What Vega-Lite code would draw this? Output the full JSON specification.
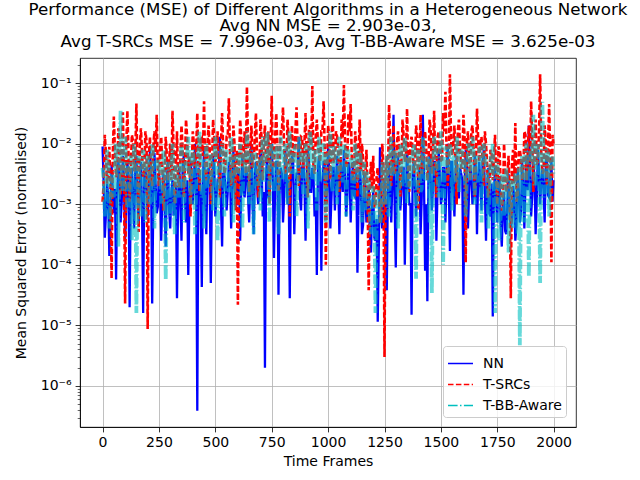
{
  "$schema": "https://vega.github.io/schema/vega-lite/v6.json",
  "width": 496,
  "height": 369,
  "autosize": {"type": "none"},
  "padding": {"left": 80, "top": 58, "right": 64, "bottom": 53},
  "title": {
    "text": ["Performance (MSE) of Different Algorithms in a Heterogeneous Network", "Avg NN MSE = 2.903e-03,", "Avg T-SRCs MSE = 7.996e-03, Avg T-BB-Aware MSE = 3.625e-03"],
    "font": "DejaVu Sans", "fontSize": 16.7, "fontWeight": "normal", "color": "black",
    "anchor": "middle", "frame": "group", "lineHeight": 16.3, "offset": 7
  },
  "config": {
    "font": "DejaVu Sans",
    "view": {"stroke": "black", "strokeWidth": 0.8},
    "axis": {
      "domainColor": "black", "domainWidth": 0.8,
      "tickColor": "black", "tickWidth": 0.8, "tickSize": 4.9,
      "gridColor": "#b0b0b0", "gridWidth": 0.8, "gridOpacity": 1,
      "labelFont": "DejaVu Sans", "labelFontSize": 14, "labelColor": "black", "labelPadding": 4,
      "titleFont": "DejaVu Sans", "titleFontSize": 14, "titleFontWeight": "normal", "titleColor": "black",
      "labelOverlap": false
    },
    "legend": {
      "title": null, "orient": "bottom-right", "offset": 10,
      "fillColor": "rgba(255,255,255,0.8)", "strokeColor": "#cccccc", "cornerRadius": 3, "padding": 4,
      "labelFont": "DejaVu Sans", "labelFontSize": 14, "labelColor": "black", "labelOffset": 9, "rowPadding": -4,
      "symbolType": "stroke", "symbolSize": 625, "symbolStrokeWidth": 1.5
    }
  },
  "data": {"values": [
    {"t":0,"n":9e-3,"s":1.1e-3,"b":4e-3},
    {"t":10,"n":2.8e-4,"s":1.4e-2,"b":6.3e-4},
    {"t":20,"n":2.2e-3,"s":2.2e-3,"b":7.9e-3},
    {"t":30,"n":1.4e-4,"s":8.9e-3,"b":4e-4},
    {"t":40,"n":4.5e-3,"s":6e-5,"b":3.2e-3},
    {"t":50,"n":7.1e-4,"s":2.8e-2,"b":1.3e-3},
    {"t":60,"n":5.7e-5,"s":2.8e-3,"b":1e-2},
    {"t":70,"n":5e-3,"s":1.8e-2,"b":2e-4},
    {"t":80,"n":5e-4,"s":1.4e-3,"b":3.5e-2},
    {"t":90,"n":6.3e-3,"s":3.3e-2,"b":1.6e-3},
    {"t":100,"n":2.5e-4,"s":2.3e-5,"b":1.3e-2},
    {"t":110,"n":5e-3,"s":3.5e-2,"b":7.9e-4},
    {"t":120,"n":2e-5,"s":1.1e-3,"b":4e-3},
    {"t":130,"n":4e-3,"s":1.4e-2,"b":2.5e-4},
    {"t":140,"n":4e-4,"s":3.5e-3,"b":1e-2},
    {"t":150,"n":6.3e-3,"s":4.6e-2,"b":1.6e-5},
    {"t":160,"n":5e-4,"s":3.5e-4,"b":6.3e-3},
    {"t":170,"n":5e-3,"s":1.8e-2,"b":6.3e-4},
    {"t":180,"n":1.6e-5,"s":2.8e-3,"b":7.9e-3},
    {"t":190,"n":4e-3,"s":1.6e-2,"b":5e-4},
    {"t":200,"n":6.3e-4,"s":8.7e-6,"b":6.3e-3},
    {"t":210,"n":7.9e-3,"s":1.3e-2,"b":1e-3},
    {"t":220,"n":2.3e-5,"s":2e-3,"b":1e-2},
    {"t":230,"n":7.1e-3,"s":1.6e-2,"b":4e-4},
    {"t":240,"n":7.1e-4,"s":3e-2,"b":5e-3},
    {"t":250,"n":3.2e-3,"s":2e-3,"b":5.6e-3},
    {"t":260,"n":2.5e-4,"s":1.3e-2,"b":1.1e-3},
    {"t":270,"n":3.2e-3,"s":7.9e-4,"b":7.9e-3},
    {"t":280,"n":2e-4,"s":1.3e-2,"b":5.6e-5},
    {"t":290,"n":5e-3,"s":2.5e-3,"b":5e-3},
    {"t":300,"n":4e-4,"s":1e-2,"b":6.3e-4},
    {"t":310,"n":2.5e-3,"s":3.5e-2,"b":1e-2},
    {"t":320,"n":7.9e-4,"s":1e-3,"b":3.2e-4},
    {"t":330,"n":2.8e-5,"s":1.6e-2,"b":4e-3},
    {"t":340,"n":4e-3,"s":2e-3,"b":1.3e-3},
    {"t":350,"n":2.5e-4,"s":2e-2,"b":1e-2},
    {"t":360,"n":6.3e-3,"s":1.3e-3,"b":5e-4},
    {"t":370,"n":5e-4,"s":2.5e-2,"b":6.3e-3},
    {"t":380,"n":6.8e-5,"s":3.2e-3,"b":1.3e-2},
    {"t":390,"n":5e-3,"s":6.3e-4,"b":1e-3},
    {"t":400,"n":1e-3,"s":1.6e-2,"b":7.9e-3},
    {"t":410,"n":1e-2,"s":4e-3,"b":3.2e-4},
    {"t":420,"n":3.9e-7,"s":3.2e-2,"b":5e-3},
    {"t":430,"n":3.2e-3,"s":1.6e-3,"b":1.6e-2},
    {"t":440,"n":4.3e-5,"s":1.3e-2,"b":1.3e-3},
    {"t":450,"n":7.9e-3,"s":5e-2,"b":4e-4},
    {"t":460,"n":3.2e-4,"s":2.5e-3,"b":1e-2},
    {"t":470,"n":4e-3,"s":2e-2,"b":2.5e-3},
    {"t":480,"n":5e-5,"s":1e-3,"b":6.3e-3},
    {"t":490,"n":6.3e-3,"s":2.5e-2,"b":7.9e-4},
    {"t":500,"n":6.3e-4,"s":5e-3,"b":1.3e-2},
    {"t":510,"n":2.5e-3,"s":1.6e-2,"b":2.5e-4},
    {"t":520,"n":1.3e-2,"s":1.3e-3,"b":4e-3},
    {"t":530,"n":2e-4,"s":3.2e-2,"b":1e-2},
    {"t":540,"n":3.2e-3,"s":3.2e-3,"b":6.3e-4},
    {"t":550,"n":7.9e-4,"s":1.3e-2,"b":7.9e-3},
    {"t":560,"n":5e-3,"s":5.6e-2,"b":1.6e-3},
    {"t":570,"n":4e-4,"s":2e-3,"b":1.3e-2},
    {"t":580,"n":7.9e-3,"s":2e-2,"b":5e-4},
    {"t":590,"n":1e-3,"s":7.9e-4,"b":6.3e-3},
    {"t":600,"n":4e-3,"s":2.2e-5,"b":3.2e-3},
    {"t":610,"n":2.5e-4,"s":2.5e-2,"b":1e-2},
    {"t":620,"n":6.3e-3,"s":4e-3,"b":4e-4},
    {"t":630,"n":1.3e-3,"s":1.6e-2,"b":5e-3},
    {"t":640,"n":3.2e-3,"s":8.7e-2,"b":1.6e-2},
    {"t":650,"n":5e-4,"s":1.6e-3,"b":1e-3},
    {"t":660,"n":1e-2,"s":2e-2,"b":7.9e-3},
    {"t":670,"n":3.2e-4,"s":5e-3,"b":3.2e-4},
    {"t":680,"n":5e-3,"s":3.2e-2,"b":6.3e-3},
    {"t":690,"n":1e-3,"s":1.3e-3,"b":2e-3},
    {"t":700,"n":7.9e-3,"s":2.5e-2,"b":7.9e-4},
    {"t":710,"n":6.3e-4,"s":2.5e-3,"b":1.3e-2},
    {"t":720,"n":2e-6,"s":2e-2,"b":4e-3},
    {"t":730,"n":6.3e-3,"s":5e-3,"b":1.6e-2},
    {"t":740,"n":1.3e-3,"s":1e-3,"b":5e-4},
    {"t":750,"n":1e-2,"s":6.2e-2,"b":1e-2},
    {"t":760,"n":1.3e-4,"s":4e-3,"b":1.6e-3},
    {"t":770,"n":5e-3,"s":3.2e-2,"b":7.9e-3},
    {"t":780,"n":3.2e-5,"s":1.6e-3,"b":3.2e-4},
    {"t":790,"n":4e-3,"s":1.6e-2,"b":1.3e-2},
    {"t":800,"n":5e-4,"s":4e-2,"b":2.5e-3},
    {"t":810,"n":7.9e-3,"s":3.2e-3,"b":1e-2},
    {"t":820,"n":1e-3,"s":2.5e-2,"b":1e-3},
    {"t":830,"n":2.8e-5,"s":6.3e-4,"b":1.6e-2},
    {"t":840,"n":6.3e-3,"s":2e-2,"b":3.2e-3},
    {"t":850,"n":3.2e-4,"s":6.3e-3,"b":7.9e-3},
    {"t":860,"n":3.2e-3,"s":4e-2,"b":6.3e-4},
    {"t":870,"n":1.3e-2,"s":2e-3,"b":1.3e-2},
    {"t":880,"n":7.9e-4,"s":1.3e-2,"b":5e-3},
    {"t":890,"n":5e-3,"s":4e-3,"b":1.3e-3},
    {"t":900,"n":2.5e-4,"s":3.2e-2,"b":1e-2},
    {"t":910,"n":7.9e-3,"s":1.3e-3,"b":4e-4},
    {"t":920,"n":1.6e-3,"s":2e-2,"b":1.6e-2},
    {"t":930,"n":4e-3,"s":9e-2,"b":2.5e-3},
    {"t":940,"n":6.3e-4,"s":3.2e-3,"b":7.9e-3},
    {"t":950,"n":6.8e-5,"s":2.5e-2,"b":7.9e-4},
    {"t":960,"n":6.3e-3,"s":6.3e-3,"b":1.3e-2},
    {"t":970,"n":8e-5,"s":1.6e-2,"b":4e-3},
    {"t":980,"n":5e-3,"s":5e-2,"b":1e-2},
    {"t":990,"n":1e-3,"s":1e-4,"b":5e-4},
    {"t":1000,"n":1e-2,"s":2e-2,"b":6.3e-3},
    {"t":1010,"n":4e-4,"s":2.5e-3,"b":1.6e-2},
    {"t":1020,"n":4e-3,"s":3.2e-2,"b":1.6e-3},
    {"t":1030,"n":7.9e-4,"s":5e-3,"b":7.9e-3},
    {"t":1040,"n":6.3e-3,"s":1.3e-2,"b":1e-3},
    {"t":1050,"n":3.2e-4,"s":1.6e-3,"b":1.3e-2},
    {"t":1060,"n":3.2e-3,"s":2.5e-2,"b":3.2e-3},
    {"t":1070,"n":7.9e-3,"s":9.3e-2,"b":1e-2},
    {"t":1080,"n":6.3e-4,"s":4e-3,"b":6.3e-4},
    {"t":1090,"n":5e-3,"s":3.2e-2,"b":7.9e-3},
    {"t":1100,"n":5e-4,"s":4.5e-2,"b":6.3e-3},
    {"t":1110,"n":5e-3,"s":2.5e-3,"b":7.9e-4},
    {"t":1120,"n":1.3e-3,"s":1.6e-2,"b":1e-2},
    {"t":1130,"n":7.4e-5,"s":1.3e-3,"b":2.5e-3},
    {"t":1140,"n":4e-3,"s":2.5e-2,"b":7.9e-3},
    {"t":1150,"n":3.2e-4,"s":1e-2,"b":5e-4},
    {"t":1160,"n":3.2e-3,"s":1.3e-3,"b":5e-3},
    {"t":1170,"n":5e-4,"s":7.9e-3,"b":3.2e-3},
    {"t":1180,"n":2e-3,"s":3.8e-5,"b":2.5e-3},
    {"t":1190,"n":1.6e-4,"s":5e-3,"b":3.2e-4},
    {"t":1200,"n":1.6e-3,"s":6.3e-3,"b":2e-3},
    {"t":1210,"n":2.5e-4,"s":1e-3,"b":1.6e-5},
    {"t":1220,"n":1.15e-5,"s":4e-3,"b":1.6e-3},
    {"t":1230,"n":8.7e-3,"s":5e-4,"b":5e-4},
    {"t":1240,"n":4e-4,"s":1e-2,"b":5e-3},
    {"t":1250,"n":2.5e-3,"s":3e-6,"b":1e-3},
    {"t":1260,"n":3.8e-5,"s":6.3e-3,"b":6.3e-3},
    {"t":1270,"n":5e-3,"s":4.4e-2,"b":6.3e-4},
    {"t":1280,"n":5e-4,"s":2e-3,"b":1.3e-2},
    {"t":1290,"n":3e-2,"s":2e-2,"b":4e-3},
    {"t":1300,"n":9e-5,"s":4e-3,"b":7.9e-3},
    {"t":1310,"n":6.3e-3,"s":1.6e-2,"b":4e-4},
    {"t":1320,"n":7.9e-4,"s":1.3e-3,"b":1e-2},
    {"t":1330,"n":4e-3,"s":2.5e-2,"b":2e-3},
    {"t":1340,"n":1e-4,"s":5e-3,"b":1.3e-2},
    {"t":1350,"n":7.9e-3,"s":3.8e-2,"b":1e-3},
    {"t":1360,"n":1e-3,"s":1.6e-3,"b":6.3e-3},
    {"t":1370,"n":1.5e-5,"s":1.3e-2,"b":3.2e-3},
    {"t":1380,"n":5e-3,"s":3.2e-3,"b":1e-2},
    {"t":1390,"n":6.3e-4,"s":2e-2,"b":5.9e-5},
    {"t":1400,"n":3.2e-3,"s":7.9e-4,"b":7.9e-3},
    {"t":1410,"n":3.2e-4,"s":3e-2,"b":1.6e-3},
    {"t":1420,"n":3e-2,"s":4e-3,"b":1.3e-2},
    {"t":1430,"n":8e-5,"s":1.6e-2,"b":2.5e-3},
    {"t":1440,"n":2.5e-5,"s":2.5e-3,"b":6.3e-3},
    {"t":1450,"n":6.3e-3,"s":2.5e-2,"b":5e-4},
    {"t":1460,"n":7.9e-4,"s":3.2e-3,"b":3.4e-5},
    {"t":1470,"n":5e-3,"s":3.5e-2,"b":1.3e-2},
    {"t":1480,"n":2.5e-4,"s":1.3e-3,"b":6.3e-3},
    {"t":1490,"n":7.9e-3,"s":1.6e-2,"b":1.3e-3},
    {"t":1500,"n":1e-3,"s":5e-3,"b":1.6e-2},
    {"t":1510,"n":4e-3,"s":3.2e-2,"b":1e-4},
    {"t":1520,"n":5e-4,"s":7.2e-2,"b":7.9e-3},
    {"t":1530,"n":1e-2,"s":2e-3,"b":3.2e-3},
    {"t":1540,"n":1.7e-4,"s":0.14,"b":1e-2},
    {"t":1550,"n":5e-3,"s":6.3e-3,"b":7.9e-4},
    {"t":1560,"n":6.3e-4,"s":2e-2,"b":6.3e-3},
    {"t":1570,"n":6.3e-3,"s":1e-3,"b":1.3e-2},
    {"t":1580,"n":1.3e-3,"s":2.5e-2,"b":1.6e-3},
    {"t":1590,"n":3.2e-3,"s":4e-3,"b":7.9e-3},
    {"t":1600,"n":3.2e-5,"s":3e-2,"b":4e-3},
    {"t":1610,"n":7.9e-3,"s":1.1e-4,"b":6.3e-4},
    {"t":1620,"n":4e-4,"s":1.6e-2,"b":1e-2},
    {"t":1630,"n":4e-3,"s":2.5e-3,"b":2.5e-3},
    {"t":1640,"n":1e-3,"s":2e-2,"b":1.3e-2},
    {"t":1650,"n":6.3e-3,"s":1.3e-3,"b":1e-3},
    {"t":1660,"n":3.2e-4,"s":3.8e-2,"b":6.3e-3},
    {"t":1670,"n":5e-3,"s":5e-3,"b":7.9e-3},
    {"t":1680,"n":7.9e-4,"s":1.3e-2,"b":5e-4},
    {"t":1690,"n":7.9e-3,"s":2e-3,"b":1e-2},
    {"t":1700,"n":2.5e-4,"s":1e-2,"b":4e-3},
    {"t":1710,"n":4e-3,"s":1.3e-3,"b":4e-4},
    {"t":1720,"n":6.3e-4,"s":7.9e-3,"b":6.3e-3},
    {"t":1730,"n":1.4e-5,"s":2.5e-3,"b":1e-2},
    {"t":1740,"n":4e-3,"s":1.4e-2,"b":1.6e-5},
    {"t":1750,"n":5e-4,"s":1e-3,"b":5e-3},
    {"t":1760,"n":2.5e-3,"s":7.9e-3,"b":2.5e-4},
    {"t":1770,"n":2e-4,"s":7.9e-4,"b":3.2e-3},
    {"t":1780,"n":1.6e-3,"s":1e-2,"b":6.3e-4},
    {"t":1790,"n":3.2e-4,"s":1.6e-3,"b":4e-3},
    {"t":1800,"n":3.2e-3,"s":6.3e-3,"b":1.6e-4},
    {"t":1810,"n":4e-4,"s":2.8e-5,"b":2.5e-3},
    {"t":1820,"n":2e-3,"s":7.9e-3,"b":4e-4},
    {"t":1830,"n":2.5e-4,"s":2.2e-2,"b":3.2e-3},
    {"t":1840,"n":4e-3,"s":1.3e-3,"b":3.2e-4},
    {"t":1850,"n":5e-4,"s":7.9e-3,"b":4.7e-6},
    {"t":1860,"n":5e-3,"s":2.5e-3,"b":6.3e-3},
    {"t":1870,"n":4e-4,"s":1.6e-2,"b":5e-4},
    {"t":1880,"n":6.3e-3,"s":2.5e-3,"b":1e-2},
    {"t":1890,"n":2e-2,"s":2e-2,"b":6.3e-5},
    {"t":1900,"n":6.3e-4,"s":5e-2,"b":7.9e-3},
    {"t":1910,"n":5e-3,"s":1.6e-3,"b":3e-2},
    {"t":1920,"n":3.2e-4,"s":2.5e-2,"b":2e-3},
    {"t":1930,"n":7.9e-3,"s":5e-3,"b":1e-2},
    {"t":1940,"n":1e-3,"s":0.14,"b":5e-5},
    {"t":1950,"n":4e-3,"s":3.2e-3,"b":4.9e-2},
    {"t":1960,"n":5e-4,"s":2e-2,"b":1.3e-3},
    {"t":1970,"n":6.3e-3,"s":2e-3,"b":7.9e-3},
    {"t":1980,"n":1.3e-3,"s":4.5e-2,"b":6.3e-4},
    {"t":1990,"n":5e-3,"s":1.1e-4,"b":6.3e-3},
    {"t":1999,"n":2.5e-3,"s":1e-2,"b":3.2e-3},
    {"t":5,"n":2.2e-3,"s":2.2e-3,"b":2.5e-3},
    {"t":15,"n":6.9e-4,"s":7e-3,"b":1e-3},
    {"t":25,"n":1.4e-3,"s":3.5e-3,"b":4e-3},
    {"t":35,"n":5.5e-4,"s":1.8e-3,"b":1.6e-3},
    {"t":45,"n":1.7e-3,"s":5.5e-3,"b":3.2e-3},
    {"t":55,"n":1.8e-3,"s":7.1e-3,"b":4e-3},
    {"t":65,"n":1.4e-3,"s":3.5e-3,"b":1.6e-3},
    {"t":75,"n":3.6e-3,"s":1.1e-2,"b":6.4e-3},
    {"t":85,"n":1.1e-3,"s":5.6e-3,"b":2.5e-3},
    {"t":95,"n":2.3e-3,"s":2.8e-3,"b":5e-3},
    {"t":105,"n":9e-4,"s":8.8e-3,"b":4e-3},
    {"t":115,"n":2.8e-3,"s":7.1e-3,"b":1.6e-3},
    {"t":125,"n":1.8e-3,"s":3.5e-3,"b":6.4e-3},
    {"t":135,"n":1.4e-3,"s":1.1e-2,"b":2.5e-3},
    {"t":145,"n":3.6e-3,"s":5.6e-3,"b":5e-3},
    {"t":155,"n":1.1e-3,"s":2.8e-3,"b":4e-3},
    {"t":165,"n":2.3e-3,"s":8.8e-3,"b":1.6e-3},
    {"t":175,"n":9e-4,"s":7.1e-3,"b":6.4e-3},
    {"t":185,"n":2.8e-3,"s":3.5e-3,"b":2.5e-3},
    {"t":195,"n":1.8e-3,"s":1.1e-2,"b":5e-3},
    {"t":205,"n":1.4e-3,"s":5.6e-3,"b":4e-3},
    {"t":215,"n":3.6e-3,"s":2.8e-3,"b":1.6e-3},
    {"t":225,"n":1.1e-3,"s":8.8e-3,"b":6.4e-3},
    {"t":235,"n":2.3e-3,"s":7.1e-3,"b":2.5e-3},
    {"t":245,"n":9e-4,"s":3.5e-3,"b":5e-3},
    {"t":255,"n":2.1e-3,"s":8e-3,"b":2.8e-3},
    {"t":265,"n":1.3e-3,"s":4e-3,"b":1.1e-3},
    {"t":275,"n":1e-3,"s":2e-3,"b":4.4e-3},
    {"t":285,"n":2.6e-3,"s":6.3e-3,"b":1.7e-3},
    {"t":295,"n":8.2e-4,"s":5e-3,"b":3.5e-3},
    {"t":305,"n":1.6e-3,"s":2.5e-3,"b":2.8e-3},
    {"t":315,"n":6.5e-4,"s":8e-3,"b":1.1e-3},
    {"t":325,"n":2.1e-3,"s":4e-3,"b":4.4e-3},
    {"t":335,"n":1.3e-3,"s":2e-3,"b":1.7e-3},
    {"t":345,"n":1e-3,"s":6.3e-3,"b":3.5e-3},
    {"t":355,"n":4e-3,"s":7.9e-3,"b":4.4e-3},
    {"t":365,"n":1.3e-3,"s":4e-3,"b":1.8e-3},
    {"t":375,"n":2.5e-3,"s":1.3e-2,"b":7e-3},
    {"t":385,"n":1e-3,"s":6.3e-3,"b":2.8e-3},
    {"t":395,"n":3.2e-3,"s":3.2e-3,"b":5.5e-3},
    {"t":405,"n":2e-3,"s":1e-2,"b":4.4e-3},
    {"t":415,"n":1.6e-3,"s":7.9e-3,"b":1.8e-3},
    {"t":425,"n":4e-3,"s":4e-3,"b":7e-3},
    {"t":435,"n":1.3e-3,"s":1.3e-2,"b":2.8e-3},
    {"t":445,"n":2.5e-3,"s":6.3e-3,"b":5.5e-3},
    {"t":455,"n":1e-3,"s":3.2e-3,"b":4.4e-3},
    {"t":465,"n":3.2e-3,"s":1e-2,"b":1.8e-3},
    {"t":475,"n":2e-3,"s":7.9e-3,"b":7e-3},
    {"t":485,"n":1.6e-3,"s":4e-3,"b":2.8e-3},
    {"t":495,"n":4e-3,"s":1.3e-2,"b":5.5e-3},
    {"t":505,"n":1.3e-3,"s":6.3e-3,"b":4.4e-3},
    {"t":515,"n":2.5e-3,"s":3.2e-3,"b":1.8e-3},
    {"t":525,"n":1e-3,"s":1e-2,"b":7e-3},
    {"t":535,"n":3.2e-3,"s":7.9e-3,"b":2.8e-3},
    {"t":545,"n":2e-3,"s":4e-3,"b":5.5e-3},
    {"t":555,"n":1.6e-3,"s":1.3e-2,"b":4.4e-3},
    {"t":565,"n":4e-3,"s":6.3e-3,"b":1.8e-3},
    {"t":575,"n":1.3e-3,"s":3.2e-3,"b":7e-3},
    {"t":585,"n":2.5e-3,"s":1e-2,"b":2.8e-3},
    {"t":595,"n":1e-3,"s":7.9e-3,"b":5.5e-3},
    {"t":605,"n":3.2e-3,"s":4e-3,"b":4.4e-3},
    {"t":615,"n":2e-3,"s":1.3e-2,"b":1.8e-3},
    {"t":625,"n":1.6e-3,"s":6.3e-3,"b":7e-3},
    {"t":635,"n":4e-3,"s":3.2e-3,"b":2.8e-3},
    {"t":645,"n":1.3e-3,"s":1e-2,"b":5.5e-3},
    {"t":655,"n":2.5e-3,"s":7.9e-3,"b":4.4e-3},
    {"t":665,"n":1e-3,"s":4e-3,"b":1.8e-3},
    {"t":675,"n":3.2e-3,"s":1.3e-2,"b":7e-3},
    {"t":685,"n":2e-3,"s":6.3e-3,"b":2.8e-3},
    {"t":695,"n":1.6e-3,"s":3.2e-3,"b":5.5e-3},
    {"t":705,"n":5e-3,"s":1.25e-2,"b":5.7e-3},
    {"t":715,"n":1.6e-3,"s":1e-2,"b":2.3e-3},
    {"t":725,"n":3.2e-3,"s":5e-3,"b":9e-3},
    {"t":735,"n":1.3e-3,"s":1.6e-2,"b":3.6e-3},
    {"t":745,"n":4e-3,"s":7.9e-3,"b":7.1e-3},
    {"t":755,"n":2.5e-3,"s":4e-3,"b":5.7e-3},
    {"t":765,"n":2e-3,"s":1.25e-2,"b":2.3e-3},
    {"t":775,"n":5e-3,"s":1e-2,"b":9e-3},
    {"t":785,"n":1.6e-3,"s":5e-3,"b":3.6e-3},
    {"t":795,"n":3.2e-3,"s":1.6e-2,"b":7.1e-3},
    {"t":805,"n":1.3e-3,"s":7.9e-3,"b":5.7e-3},
    {"t":815,"n":4e-3,"s":4e-3,"b":2.3e-3},
    {"t":825,"n":2.5e-3,"s":1.25e-2,"b":9e-3},
    {"t":835,"n":2e-3,"s":1e-2,"b":3.6e-3},
    {"t":845,"n":5e-3,"s":5e-3,"b":7.1e-3},
    {"t":855,"n":1.6e-3,"s":1.6e-2,"b":5.7e-3},
    {"t":865,"n":3.2e-3,"s":7.9e-3,"b":2.3e-3},
    {"t":875,"n":1.3e-3,"s":4e-3,"b":9e-3},
    {"t":885,"n":4e-3,"s":1.25e-2,"b":3.6e-3},
    {"t":895,"n":2.5e-3,"s":1e-2,"b":7.1e-3},
    {"t":905,"n":2e-3,"s":5e-3,"b":5.7e-3},
    {"t":915,"n":5e-3,"s":1.6e-2,"b":2.3e-3},
    {"t":925,"n":1.6e-3,"s":7.9e-3,"b":9e-3},
    {"t":935,"n":3.2e-3,"s":4e-3,"b":3.6e-3},
    {"t":945,"n":1.3e-3,"s":1.25e-2,"b":7.1e-3},
    {"t":955,"n":4e-3,"s":1e-2,"b":5.7e-3},
    {"t":965,"n":2.5e-3,"s":5e-3,"b":2.3e-3},
    {"t":975,"n":2e-3,"s":1.6e-2,"b":9e-3},
    {"t":985,"n":5e-3,"s":7.9e-3,"b":3.6e-3},
    {"t":995,"n":1.6e-3,"s":4e-3,"b":7.1e-3},
    {"t":1005,"n":3.2e-3,"s":1.25e-2,"b":5.7e-3},
    {"t":1015,"n":1.3e-3,"s":1e-2,"b":2.3e-3},
    {"t":1025,"n":4e-3,"s":5e-3,"b":9e-3},
    {"t":1035,"n":2.5e-3,"s":1.6e-2,"b":3.6e-3},
    {"t":1045,"n":2e-3,"s":7.9e-3,"b":7.1e-3},
    {"t":1055,"n":5e-3,"s":4e-3,"b":5.7e-3},
    {"t":1065,"n":1.6e-3,"s":1.25e-2,"b":2.3e-3},
    {"t":1075,"n":3.2e-3,"s":1e-2,"b":9e-3},
    {"t":1085,"n":1.3e-3,"s":5e-3,"b":3.6e-3},
    {"t":1095,"n":4e-3,"s":1.6e-2,"b":7.1e-3},
    {"t":1105,"n":1.8e-3,"s":5.6e-3,"b":4e-3},
    {"t":1115,"n":1.4e-3,"s":2.8e-3,"b":1.6e-3},
    {"t":1125,"n":3.6e-3,"s":8.8e-3,"b":6.4e-3},
    {"t":1135,"n":1.1e-3,"s":7.1e-3,"b":2.5e-3},
    {"t":1145,"n":2.3e-3,"s":3.5e-3,"b":5e-3},
    {"t":1155,"n":4.5e-4,"s":5.6e-3,"b":2e-3},
    {"t":1165,"n":1.4e-3,"s":2.8e-3,"b":8e-4},
    {"t":1175,"n":8.9e-4,"s":1.4e-3,"b":3.2e-3},
    {"t":1185,"n":3.6e-4,"s":2.2e-3,"b":6.2e-4},
    {"t":1195,"n":9e-4,"s":1.8e-3,"b":1.25e-3},
    {"t":1205,"n":2.8e-4,"s":8.8e-4,"b":1e-3},
    {"t":1215,"n":5.7e-4,"s":2.8e-3,"b":4e-4},
    {"t":1225,"n":2.3e-4,"s":1.4e-3,"b":1.6e-3},
    {"t":1235,"n":7.1e-4,"s":7e-4,"b":6.2e-4},
    {"t":1245,"n":8.9e-4,"s":4.4e-3,"b":2.5e-3},
    {"t":1255,"n":7e-4,"s":3.5e-3,"b":2e-3},
    {"t":1265,"n":1.8e-3,"s":1.8e-3,"b":8e-4},
    {"t":1275,"n":1.3e-3,"s":1.3e-2,"b":7e-3},
    {"t":1285,"n":2.5e-3,"s":6.3e-3,"b":2.8e-3},
    {"t":1295,"n":1e-3,"s":3.2e-3,"b":5.5e-3},
    {"t":1305,"n":3.2e-3,"s":1e-2,"b":4.4e-3},
    {"t":1315,"n":2e-3,"s":7.9e-3,"b":1.8e-3},
    {"t":1325,"n":1.6e-3,"s":4e-3,"b":7e-3},
    {"t":1335,"n":4e-3,"s":1.3e-2,"b":2.8e-3},
    {"t":1345,"n":1.3e-3,"s":6.3e-3,"b":5.5e-3},
    {"t":1355,"n":2.5e-3,"s":3.2e-3,"b":4.4e-3},
    {"t":1365,"n":1e-3,"s":1e-2,"b":1.8e-3},
    {"t":1375,"n":3.2e-3,"s":7.9e-3,"b":7e-3},
    {"t":1385,"n":2e-3,"s":4e-3,"b":2.8e-3},
    {"t":1395,"n":1.6e-3,"s":1.3e-2,"b":5.5e-3},
    {"t":1405,"n":4e-3,"s":6.3e-3,"b":4.4e-3},
    {"t":1415,"n":1.3e-3,"s":3.2e-3,"b":1.8e-3},
    {"t":1425,"n":2.5e-3,"s":1e-2,"b":7e-3},
    {"t":1435,"n":1e-3,"s":7.9e-3,"b":2.8e-3},
    {"t":1445,"n":3.2e-3,"s":4e-3,"b":5.5e-3},
    {"t":1455,"n":2.5e-3,"s":1.6e-2,"b":5.7e-3},
    {"t":1465,"n":2e-3,"s":7.9e-3,"b":2.3e-3},
    {"t":1475,"n":5e-3,"s":4e-3,"b":9e-3},
    {"t":1485,"n":1.6e-3,"s":1.25e-2,"b":3.6e-3},
    {"t":1495,"n":3.2e-3,"s":1e-2,"b":7.1e-3},
    {"t":1505,"n":1.3e-3,"s":5e-3,"b":5.7e-3},
    {"t":1515,"n":4e-3,"s":1.6e-2,"b":2.3e-3},
    {"t":1525,"n":2.5e-3,"s":7.9e-3,"b":9e-3},
    {"t":1535,"n":2e-3,"s":4e-3,"b":3.6e-3},
    {"t":1545,"n":5e-3,"s":1.25e-2,"b":7.1e-3},
    {"t":1555,"n":1.6e-3,"s":1e-2,"b":5.7e-3},
    {"t":1565,"n":3.2e-3,"s":5e-3,"b":2.3e-3},
    {"t":1575,"n":1.3e-3,"s":1.6e-2,"b":9e-3},
    {"t":1585,"n":4e-3,"s":7.9e-3,"b":3.6e-3},
    {"t":1595,"n":2.5e-3,"s":4e-3,"b":7.1e-3},
    {"t":1605,"n":2e-3,"s":1.25e-2,"b":5.7e-3},
    {"t":1615,"n":5e-3,"s":1e-2,"b":2.3e-3},
    {"t":1625,"n":1.6e-3,"s":5e-3,"b":9e-3},
    {"t":1635,"n":3.2e-3,"s":1.6e-2,"b":3.6e-3},
    {"t":1645,"n":1.3e-3,"s":7.9e-3,"b":7.1e-3},
    {"t":1655,"n":4e-3,"s":4e-3,"b":5.7e-3},
    {"t":1665,"n":2.5e-3,"s":1.25e-2,"b":2.3e-3},
    {"t":1675,"n":2e-3,"s":1e-2,"b":9e-3},
    {"t":1685,"n":5e-3,"s":5e-3,"b":3.6e-3},
    {"t":1695,"n":1.6e-3,"s":1.6e-2,"b":7.1e-3},
    {"t":1705,"n":1.8e-3,"s":4.5e-3,"b":3.2e-3},
    {"t":1715,"n":7e-4,"s":2.2e-3,"b":1.25e-3},
    {"t":1725,"n":2.2e-3,"s":7.1e-3,"b":5e-3},
    {"t":1735,"n":1.4e-3,"s":5.7e-3,"b":2e-3},
    {"t":1745,"n":1.1e-3,"s":2.8e-3,"b":4e-3},
    {"t":1755,"n":2.8e-3,"s":9e-3,"b":3.2e-3},
    {"t":1765,"n":4.5e-4,"s":2.2e-3,"b":6.5e-4},
    {"t":1775,"n":9e-4,"s":1.1e-3,"b":2.6e-3},
    {"t":1785,"n":3.6e-4,"s":3.5e-3,"b":1e-3},
    {"t":1795,"n":1.1e-3,"s":2.8e-3,"b":2e-3},
    {"t":1805,"n":7.1e-4,"s":1.4e-3,"b":1.6e-3},
    {"t":1815,"n":5.6e-4,"s":4.4e-3,"b":6.5e-4},
    {"t":1825,"n":1.4e-3,"s":2.2e-3,"b":2.6e-3},
    {"t":1835,"n":4.5e-4,"s":1.1e-3,"b":1e-3},
    {"t":1845,"n":1.8e-3,"s":7.1e-3,"b":4e-3},
    {"t":1855,"n":7e-4,"s":5.7e-3,"b":3.2e-3},
    {"t":1865,"n":2.2e-3,"s":2.8e-3,"b":1.25e-3},
    {"t":1875,"n":2.2e-3,"s":1.4e-2,"b":8e-3},
    {"t":1885,"n":1.7e-3,"s":7.1e-3,"b":3.2e-3},
    {"t":1895,"n":4.4e-3,"s":3.5e-3,"b":6.3e-3},
    {"t":1905,"n":1.4e-3,"s":1.1e-2,"b":5e-3},
    {"t":1915,"n":2.8e-3,"s":9e-3,"b":2e-3},
    {"t":1925,"n":1.1e-3,"s":4.5e-3,"b":8e-3},
    {"t":1935,"n":3.5e-3,"s":1.4e-2,"b":3.2e-3},
    {"t":1945,"n":2.2e-3,"s":7.1e-3,"b":6.3e-3},
    {"t":1955,"n":1.7e-3,"s":3.5e-3,"b":5e-3},
    {"t":1965,"n":4.4e-3,"s":1.1e-2,"b":2e-3},
    {"t":1975,"n":1.4e-3,"s":9e-3,"b":8e-3},
    {"t":1985,"n":2.8e-3,"s":4.5e-3,"b":3.2e-3},
    {"t":1995,"n":1.1e-3,"s":1.4e-2,"b":6.3e-3}
  ]},
  "transform": [{"fold": ["n", "s", "b"], "as": ["key", "v"]}],
  "encoding": {
    "x": {
      "field": "t", "type": "quantitative",
      "scale": {"domain": [-100, 2099], "nice": false, "zero": false},
      "axis": {"values": [0, 250, 500, 750, 1000, 1250, 1500, 1750, 2000], "format": "d", "title": "Time Frames", "grid": true, "titlePadding": 5}
    },
    "y": {
      "field": "v", "type": "quantitative",
      "scale": {"type": "log", "domain": [2.1e-7, 0.26], "nice": false},
      "axis": {
        "title": "Mean Squared Error (normalised)",
        "grid": true,
        "titlePadding": 12,
        "values": [3e-7, 4e-7, 5e-7, 6e-7, 7e-7, 8e-7, 9e-7, 1e-6, 2e-6, 3e-6, 4e-6, 5e-6, 6e-6, 7e-6, 8e-6, 9e-6, 1e-5, 2e-5, 3e-5, 4e-5, 5e-5, 6e-5, 7e-5, 8e-5, 9e-5, 1e-4, 2e-4, 3e-4, 4e-4, 5e-4, 6e-4, 7e-4, 8e-4, 9e-4, 1e-3, 2e-3, 3e-3, 4e-3, 5e-3, 6e-3, 7e-3, 8e-3, 9e-3, 1e-2, 2e-2, 3e-2, 4e-2, 5e-2, 6e-2, 7e-2, 8e-2, 9e-2, 0.1, 0.2],
        "labelExpr": "abs(log(datum.value)/LN10 - round(log(datum.value)/LN10)) < 0.01 ? '10' + ['⁰','⁻¹','⁻²','⁻³','⁻⁴','⁻⁵','⁻⁶','⁻⁷'][-round(log(datum.value)/LN10)] : ''",
        "tickSize": {"condition": {"test": "abs(log(datum.value)/LN10 - round(log(datum.value)/LN10)) < 0.01", "value": 4.9}, "value": 2.8},
        "tickWidth": {"condition": {"test": "abs(log(datum.value)/LN10 - round(log(datum.value)/LN10)) < 0.01", "value": 0.8}, "value": 0.6},
        "gridOpacity": {"condition": {"test": "abs(log(datum.value)/LN10 - round(log(datum.value)/LN10)) < 0.01", "value": 1}, "value": 0}
      }
    },
    "color": {
      "field": "key", "type": "nominal",
      "scale": {"domain": ["n", "s", "b"], "range": ["#0000ff", "#ff0000", "#00bfbf"]},
      "legend": {"labelExpr": "datum.label == 'n' ? 'NN' : datum.label == 's' ? 'T-SRCs' : 'T-BB-Aware'"}
    },
    "strokeDash": {
      "field": "key", "type": "nominal",
      "scale": {"domain": ["n", "s", "b"], "range": [[1, 0], [5.5, 2.4], [9.6, 2.4, 1.5, 2.4]]},
      "legend": {"labelExpr": "datum.label == 'n' ? 'NN' : datum.label == 's' ? 'T-SRCs' : 'T-BB-Aware'"}
    }
  },
  "layer": [
    {"transform": [{"filter": "datum.key == 'n'"}], "mark": {"type": "line", "strokeWidth": 2.3, "clip": true}},
    {"transform": [{"filter": "datum.key == 's'"}], "mark": {"type": "line", "strokeWidth": 2.6, "clip": true}},
    {"transform": [{"filter": "datum.key == 'b'"}], "mark": {"type": "line", "strokeWidth": 3.8, "strokeOpacity": 0.6, "clip": true}}
  ]
}
